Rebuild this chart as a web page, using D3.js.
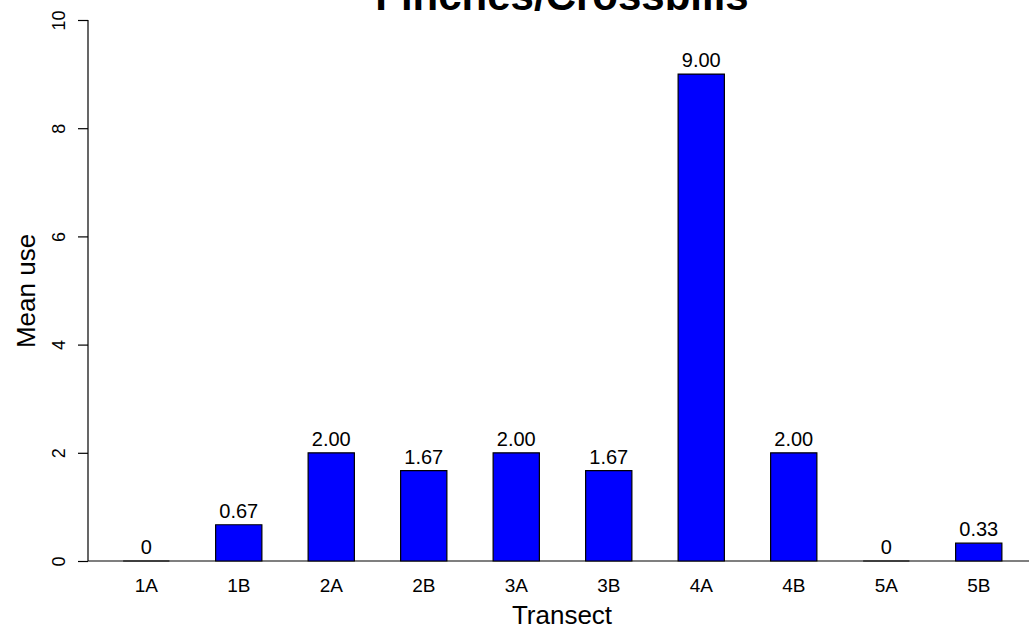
<!DOCTYPE html>
<html>
<head>
<meta charset="utf-8">
<script src="https://cdn.jsdelivr.net/npm/d3@7"></script>
<style>
  html, body { margin: 0; padding: 0; background: #ffffff; }
  svg { display: block; }
  text { font-family: "Liberation Sans", Arial, Helvetica, sans-serif; fill: #000; }
</style>
</head>
<body>
<div id="chart"></div>
<script>
const categories = ["1A", "1B", "2A", "2B", "3A", "3B", "4A", "4B", "5A", "5B"];
const meanUse = [0, 0.67, 2.00, 1.67, 2.00, 1.67, 9.00, 2.00, 0, 0.33];
const valueLabels = ["0", "0.67", "2.00", "1.67", "2.00", "1.67", "9.00", "2.00", "0", "0.33"];
const yTicks = [0, 2, 4, 6, 8, 10];
const titleText = "Finches/Crossbills";
const xTitle = "Transect";
const yTitle = "Mean use";

const W = 1029, H = 627;
const svg = d3.select("#chart").append("svg").attr("width", W).attr("height", H);

const x = d3.scaleBand().domain(categories).range([100, 1025]).paddingInner(0.5).paddingOuter(0.25);
const y = d3.scaleLinear().domain([0, 10]).range([561, 20]);

// title (clipped at top, as in the reference)
svg.append("text").attr("x", 562).attr("y", 10).attr("text-anchor", "middle")
  .attr("font-size", 42).attr("font-weight", "bold").text(titleText);

// baseline across
svg.append("line").attr("x1", 88).attr("x2", W).attr("y1", y(0)).attr("y2", y(0))
  .attr("stroke", "#555").attr("stroke-width", 1.5);

// bars
const data = categories.map((c, i) => ({ c, v: meanUse[i], lab: valueLabels[i] }));
svg.selectAll("path.bar").data(data).join("path").attr("class", "bar")
  .attr("d", d => {
    const p = d3.path();
    const x0 = x(d.c), x1 = x(d.c) + x.bandwidth();
    p.moveTo(x0, y(0)); p.lineTo(x0, y(d.v)); p.lineTo(x1, y(d.v)); p.lineTo(x1, y(0)); p.closePath();
    return p.toString();
  })
  .attr("fill", "#0000ff").attr("stroke", "#000").attr("stroke-width", 1.2);

// value labels
svg.selectAll("text.val").data(data).join("text").attr("class", "val")
  .attr("x", d => x(d.c) + x.bandwidth() / 2).attr("y", d => y(d.v) - 7)
  .attr("text-anchor", "middle").attr("font-size", 20).text(d => d.lab);

// y axis
const yAxis = d3.axisLeft(y).tickValues(yTicks).tickSize(10).tickPadding(4).tickFormat(d3.format("d"));
const gy = svg.append("g").attr("transform", "translate(88,0)").call(yAxis);
gy.select(".domain").attr("d", `M0,${y(10)}V${y(0)}`).attr("stroke", "#000").attr("stroke-width", 1.2);
gy.selectAll(".tick line").attr("stroke", "#000").attr("stroke-width", 1.2);
gy.selectAll(".tick text").attr("font-size", 18).attr("font-family", "Liberation Sans, Arial, sans-serif")
  .attr("text-anchor", "middle").attr("transform", "rotate(-90)")
  .attr("x", 0).attr("y", -23).attr("dy", 0);

// x labels
const xAxis = d3.axisBottom(x).tickSize(0).tickPadding(0);
const gx = svg.append("g").attr("transform", `translate(0,${y(0)})`).call(xAxis);
gx.select(".domain").remove();
gx.selectAll(".tick text").attr("font-size", 19).attr("font-family", "Liberation Sans, Arial, sans-serif")
  .attr("y", 31).attr("dy", 0);

// axis titles
svg.append("text").attr("x", 562).attr("y", 624).attr("text-anchor", "middle")
  .attr("font-size", 26).text(xTitle);
svg.append("text").attr("transform", "translate(35,291) rotate(-90)").attr("text-anchor", "middle")
  .attr("font-size", 26).text(yTitle);
</script>
</body>
</html>
